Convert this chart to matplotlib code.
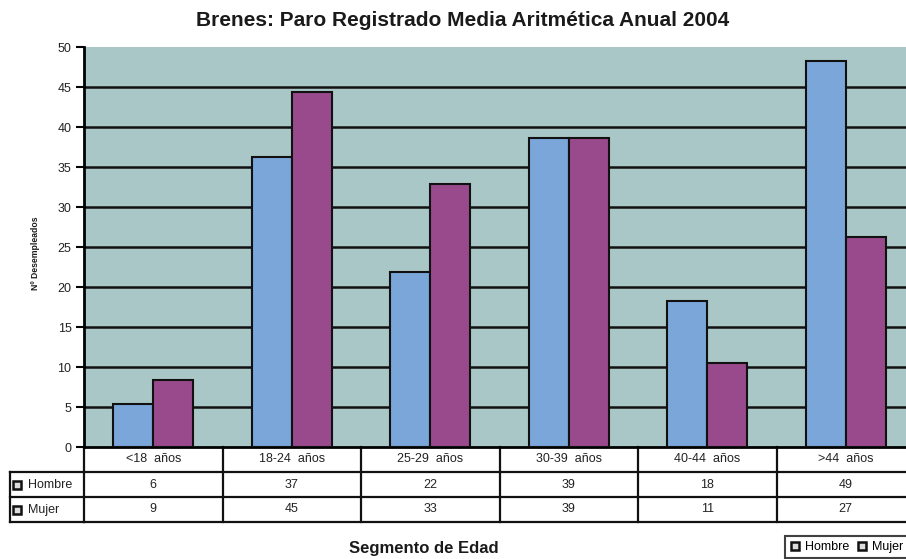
import matplotlib
matplotlib.use("Agg")
import matplotlib.pyplot as plt
from matplotlib.lines import Line2D

plt.rcParams['font.family'] = ['Liberation Sans', 'DejaVu Sans']

# datos
segmentos = ["<18  años", "18-24  años", "25-29  años", "30-39  años", "40-44  años", ">44  años"]
hombre = [5.4, 36.3, 21.9, 38.6, 18.2, 48.2]
mujer = [8.4, 44.4, 32.9, 38.6, 10.5, 26.3]
hombre_txt = ["6", "37", "22", "39", "18", "49"]
mujer_txt = ["9", "45", "33", "39", "11", "27"]
yticks = [0, 5, 10, 15, 20, 25, 30, 35, 40, 45, 50]

c_hombre = "#7ba6da"
c_mujer = "#984a8c"
fondo = "#a9c7c6"

W, H = 906, 559
fig = plt.figure(figsize=(W / 100, H / 100), dpi=100)
# el area de trazado se sale por la derecha, como en el original
ax = fig.add_axes([84 / W, 1 - 447 / H, 831 / W, 400 / H])
ax.set_facecolor(fondo)

x = list(range(len(segmentos)))
bw = 0.29
ax.bar([i - bw for i in x], hombre, width=bw, align='edge', color=c_hombre,
       edgecolor='#111111', linewidth=1.5, zorder=3)
ax.bar(x, mujer, width=bw, align='edge', color=c_mujer,
       edgecolor='#111111', linewidth=1.5, zorder=3)

for v in yticks[1:-1]:
    ax.axhline(v, color='#111111', lw=1.8, zorder=1)

ax.set_xlim(-0.5, 5.5)
ax.set_ylim(0, 50)
ax.set_yticks(yticks)
ax.set_xticks([])
ax.tick_params(axis='y', direction='out', length=6, width=1.5, labelsize=9, pad=3,
               labelcolor='#222222')
for s in ['top', 'right']:
    ax.spines[s].set_visible(False)
ax.spines['left'].set_linewidth(2)
ax.spines['bottom'].set_linewidth(2)

# tabla de datos bajo el eje
tr = ax.get_xaxis_transform()
rh = 25 / 400
lw = 1.6
fs = 9
for i in range(len(segmentos) + 1):
    ax.plot([i - 0.5, i - 0.5], [0, -3 * rh], transform=tr, color='#111111', lw=lw, clip_on=False)
for k in range(1, 4):
    ax.plot([-0.5, 5.5], [-k * rh, -k * rh], transform=tr, color='#111111', lw=lw, clip_on=False)
    ax.plot([-0.089, 0], [-k * rh, -k * rh], transform=ax.transAxes, color='#111111', lw=lw, clip_on=False)
ax.plot([-0.089, -0.089], [-rh, -3 * rh], transform=ax.transAxes, color='#111111', lw=lw, clip_on=False)

for i, seg in enumerate(segmentos):
    ax.text(i, -0.5 * rh, seg, transform=tr, ha='center', va='center', fontsize=fs, color='#222222')
    ax.text(i, -1.5 * rh, hombre_txt[i], transform=tr, ha='center', va='center', fontsize=fs, color='#222222')
    ax.text(i, -2.5 * rh, mujer_txt[i], transform=tr, ha='center', va='center', fontsize=fs, color='#222222')

for k, nombre in [(1, "Hombre"), (2, "Mujer")]:
    ax.plot([-0.081], [-(k + 0.5) * rh], transform=ax.transAxes, marker='s', ms=5.5,
            mfc='#dddddd', mec='#111111', mew=1.8, clip_on=False)
    ax.text(-0.0675, -(k + 0.5) * rh, nombre, transform=ax.transAxes, ha='left',
            va='center', fontsize=fs, color='#222222')

fig.text(463 / W, 1 - 21 / H, "Brenes: Paro Registrado Media Aritmética Anual 2004",
         ha='center', va='center', fontsize=15, fontweight='bold', color='#1a1a1a')
fig.text(424 / W, 1 - 548 / H, "Segmento de Edad", ha='center', va='center',
         fontsize=12, fontweight='bold', color='#1a1a1a')
fig.text(35 / W, 1 - 253 / H, "Nº Desempleados", ha='center', va='center',
         rotation=90, fontsize=6.2, fontweight='bold', color='#1a1a1a')

handles = [Line2D([], [], ls='none', marker='s', ms=5.5, mfc='#dddddd', mec='#111111', mew=1.8),
           Line2D([], [], ls='none', marker='s', ms=5.5, mfc='#dddddd', mec='#111111', mew=1.8)]
leg = fig.legend(handles, ["Hombre", "Mujer"], ncol=2, loc='upper left',
                 bbox_to_anchor=(785 / W, 1 - 536 / H), fontsize=fs, frameon=True,
                 fancybox=False, handlelength=0.8, handletextpad=0.4, columnspacing=0.6,
                 borderpad=0.4, borderaxespad=0)
leg.get_frame().set_edgecolor('#111111')
leg.get_frame().set_linewidth(1.5)

fig.savefig("out.png", dpi=100)
